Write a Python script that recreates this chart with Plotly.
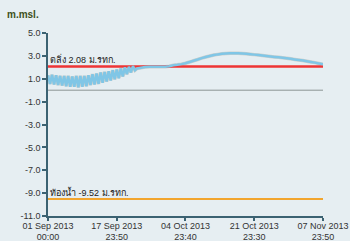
import pandas as pd
import plotly.graph_objects as go

# ---- data ----
# tidal phase: alternating high / low every 12 h from 01 Sep 2013 00:00
tide_levels = [
    1.30, 0.55, 1.35, 0.50, 1.30, 0.45, 1.25, 0.40, 1.25, 0.35,
    1.25, 0.30, 1.20, 0.30, 1.25, 0.25, 1.25, 0.30, 1.25, 0.35,
    1.30, 0.45, 1.40, 0.50, 1.45, 0.55, 1.55, 0.65, 1.60, 0.75,
    1.65, 0.85, 1.75, 0.95, 1.80, 1.05, 1.90, 1.20, 2.00, 1.40,
    2.05, 1.55, 2.10, 1.75,
]
# smooth phase: daily from 23 Sep 2013 00:00
daily_levels = [
    1.90, 1.97, 2.02, 2.05, 2.05, 2.05, 2.05, 2.06, 2.10, 2.18,
    2.22, 2.28, 2.36, 2.46, 2.57, 2.68, 2.80, 2.90, 2.99, 3.07,
    3.13, 3.18, 3.21, 3.23, 3.24, 3.23, 3.21, 3.19, 3.15, 3.11,
    3.07, 3.03, 2.99, 2.95, 2.91, 2.87, 2.83, 2.79, 2.74, 2.69,
    2.64, 2.59, 2.53, 2.47, 2.41, 2.34,
]
last_time = "2013-11-07 23:50"
last_level = 2.26

bank_level = 2.08
bed_level = -9.52
bank_label = "ตลิ่ง 2.08 ม.รทก."
bed_label = "ท้องน้ำ -9.52 ม.รทก."

start_time = "2013-09-01 00:00"
x_tick_vals = ["2013-09-01 00:00", "2013-09-17 23:50", "2013-10-04 23:40",
               "2013-10-21 23:30", "2013-11-07 23:50"]
x_tick_text = ["01 Sep 2013<br>00:00", "17 Sep 2013<br>23:50", "04 Oct 2013<br>23:40",
               "21 Oct 2013<br>23:30", "07 Nov 2013<br>23:50"]
y_tick_vals = [-11, -9, -7, -5, -3, -1, 1, 3, 5]
y_tick_text = ["-11.0", "-9.0", "-7.0", "-5.0", "-3.0", "-1.0", "1.0", "3.0", "5.0"]
y_title = "m.msl."

# ---- build series ----
tide_dates = list(pd.date_range(start_time, periods=len(tide_levels), freq="12h"))
daily_dates = list(pd.date_range("2013-09-23 00:00", periods=len(daily_levels), freq="D"))
times = tide_dates + daily_dates + [pd.Timestamp(last_time)]
levels = tide_levels + daily_levels + [last_level]
span = [pd.Timestamp(start_time), pd.Timestamp(last_time)]

BG = "#e6eef2"
AXIS = "#3b6272"
TXT = "#333333"
FONT = "Liberation Sans, Arial, sans-serif"

fig = go.Figure()
fig.add_trace(go.Scatter(x=span, y=[0, 0], mode="lines",
                         line=dict(color="#8c9494", width=1), hoverinfo="skip"))
fig.add_trace(go.Scatter(x=span, y=[bed_level] * 2, mode="lines",
                         line=dict(color="#f2a52e", width=2), hoverinfo="skip"))
fig.add_trace(go.Scatter(x=times, y=levels, mode="lines",
                         line=dict(color="rgba(150,140,120,0.30)", width=3.5, simplify=False)))
fig.add_trace(go.Scatter(x=span, y=[bank_level] * 2, mode="lines",
                         line=dict(color="#ee3535", width=2.5), hoverinfo="skip"))
fig.add_trace(go.Scatter(x=times, y=levels, mode="lines",
                         line=dict(color="#80c6e6", width=2.5, simplify=False)))

fig.add_annotation(x=start_time, y=bank_level, xref="x", yref="y", text=bank_label,
                   showarrow=False, xanchor="left", yanchor="bottom", yshift=-1,
                   font=dict(size=9, color="#222222", family=FONT))
fig.add_annotation(x=start_time, y=bed_level, xref="x", yref="y", text=bed_label,
                   showarrow=False, xanchor="left", yanchor="bottom", yshift=-1,
                   font=dict(size=9, color="#222222", family=FONT))
fig.add_annotation(x=-43 / 275, y=(216 - 15) / 183, xref="paper", yref="paper", text=f"<b>{y_title}</b>",
                   showarrow=False, xanchor="left", yanchor="middle",
                   font=dict(size=10, color="#3d5020", family=FONT))

fig.update_layout(
    width=350, height=241,
    margin=dict(l=48, r=27, t=33, b=25, autoexpand=False),
    paper_bgcolor=BG, plot_bgcolor=BG,
    showlegend=False,
    font=dict(family=FONT, size=9, color=TXT),
    xaxis=dict(type="date", range=span, showgrid=False, zeroline=False, automargin=False,
               showline=True, linecolor=AXIS, linewidth=1.5,
               ticks="outside", ticklen=3, tickcolor=AXIS, tickwidth=1.5,
               ticklabelstandoff=-3,
               tickvals=x_tick_vals, ticktext=x_tick_text,
               tickfont=dict(size=9, color=TXT)),
    yaxis=dict(range=[-11, 5], showgrid=False, zeroline=False, automargin=False,
               showline=True, linecolor=AXIS, linewidth=1.5,
               ticks="outside", ticklen=4, tickcolor=AXIS, tickwidth=1.5,
               tickvals=y_tick_vals, ticktext=y_tick_text,
               tickfont=dict(size=9, color=TXT)),
)

fig.write_html("out.html")
